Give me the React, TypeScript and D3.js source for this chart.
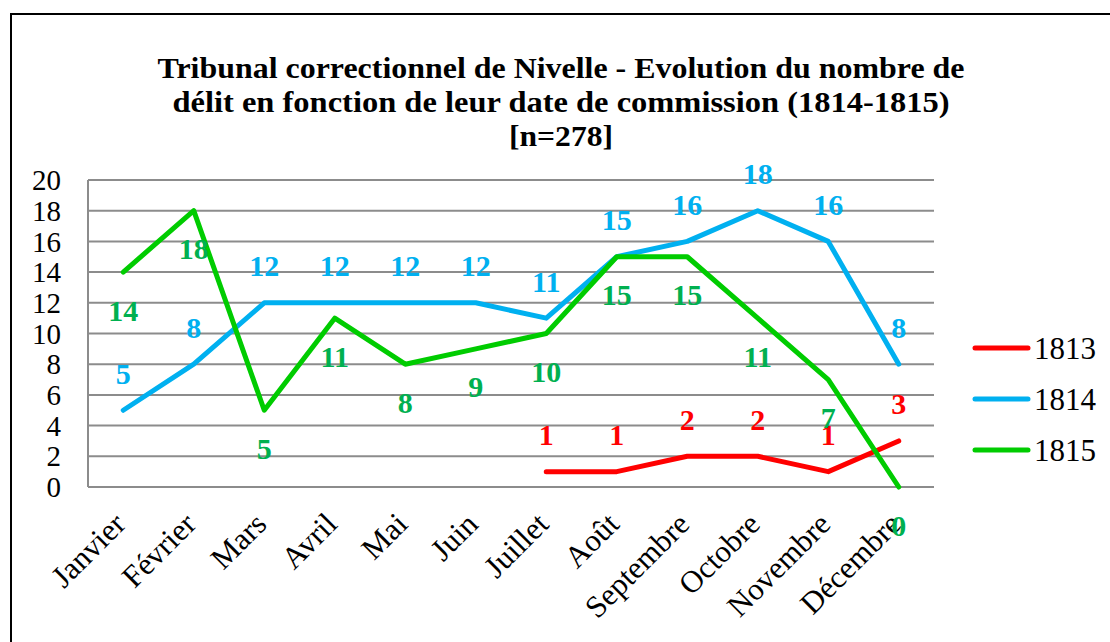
import React from "react";
import * as d3 from "d3";

const months = ["Janvier", "Février", "Mars", "Avril", "Mai", "Juin", "Juillet", "Août", "Septembre", "Octobre", "Novembre", "Décembre"];
const s1813: (number | null)[] = [null, null, null, null, null, null, 1, 1, 2, 2, 1, 3];
const s1814: (number | null)[] = [5, 8, 12, 12, 12, 12, 11, 15, 16, 18, 16, 8];
const s1815: (number | null)[] = [14, 18, 5, 11, 8, 9, 10, 15, 15, 11, 7, 0];
const yTicks = [0, 2, 4, 6, 8, 10, 12, 14, 16, 18, 20];
const titleLines = [
  "Tribunal correctionnel de Nivelle - Evolution du nombre de",
  "délit en fonction de leur date de commission (1814-1815)",
  "[n=278]",
];
const seriesNames = ["1813", "1814", "1815"];

const series = [
  { name: seriesNames[0], data: s1813, line: "#FF0000", label: "#FF0000", pos: "above" },
  { name: seriesNames[1], data: s1814, line: "#00B0F0", label: "#00B0F0", pos: "above" },
  { name: seriesNames[2], data: s1815, line: "#00CC00", label: "#00B050", pos: "below" },
];

const W = 1110, H = 642;
const left = 88, right = 934, top = 180, bottom = 487;
const font = "Liberation Serif, Times New Roman, Times, serif";

export default function App() {
  const x = d3.scaleBand<string>().domain(months).range([left, right]);
  const y = d3.scaleLinear().domain([0, 20]).range([bottom, top]);
  const cx = (m: string) => (x(m) as number) + x.bandwidth() / 2;

  const line = d3
    .line<number | null>()
    .defined((d) => d !== null)
    .x((_, i) => cx(months[i]))
    .y((d) => y(d as number));

  const titleWidths = [807, 777, 104];
  const titleY = [78, 112, 146];

  return (
    <svg width={W} height={H} style={{ position: "absolute", left: 0, top: 0, background: "#fff", fontFamily: font }}>
      <rect x={0} y={0} width={W} height={H} fill="#fff" />
      <rect x={11} y={14} width={W + 20} height={H + 20} fill="none" stroke="#000" strokeWidth={2} />
      {titleLines.map((t, i) => (
        <text
          key={i}
          x={W / 2 + 6}
          y={titleY[i]}
          textAnchor="middle"
          fontWeight="bold"
          fontSize={29}
          textLength={titleWidths[i]}
          lengthAdjust="spacingAndGlyphs"
        >
          {t}
        </text>
      ))}
      {yTicks.map((t) => (
        <g key={t}>
          <line x1={left} x2={right} y1={y(t)} y2={y(t)} stroke="#8c8c8c" strokeWidth={2} />
          <text x={61} y={y(t)} dy="0.35em" textAnchor="end" fontSize={29}>
            {t}
          </text>
        </g>
      ))}
      <line x1={left} x2={left} y1={top} y2={bottom} stroke="#8c8c8c" strokeWidth={2} />
      {months.map((m) => (
        <text
          key={m}
          transform={`translate(${cx(m) + 4},${526}) rotate(-45)`}
          textAnchor="end"
          fontSize={31}
        >
          {m}
        </text>
      ))}
      {series.map((s) => (
        <path key={s.name} d={line(s.data) || ""} fill="none" stroke={s.line} strokeWidth={5} strokeLinecap="round" strokeLinejoin="round" />
      ))}
      {series.map((s) =>
        s.data.map((v, i) =>
          v === null ? null : (
            <text
              key={s.name + i}
              x={cx(months[i])}
              y={y(v) + (s.pos === "above" ? -37 : 38)}
              dy="0.35em"
              textAnchor="middle"
              fontWeight="bold"
              fontSize={30}
              fill={s.label}
            >
              {v}
            </text>
          )
        )
      )}
      {series.map((s, i) => (
        <g key={s.name} transform={`translate(0,${348 + i * 51})`}>
          <line x1={975} x2={1028} y1={0} y2={0} stroke={s.line} strokeWidth={5} strokeLinecap="round" />
          <text x={1034} y={0} dy="0.35em" fontSize={31}>
            {s.name}
          </text>
        </g>
      ))}
    </svg>
  );
}
